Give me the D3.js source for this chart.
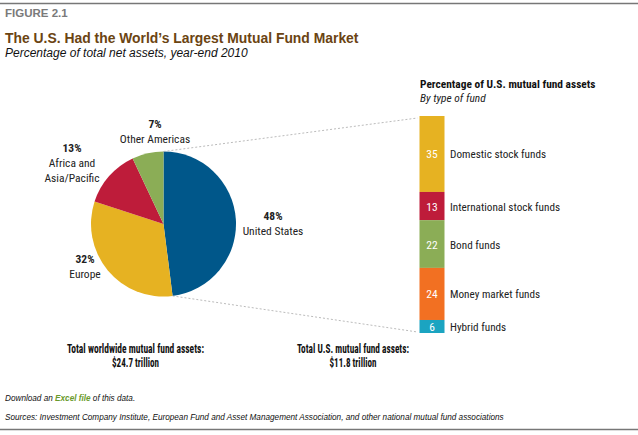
<!DOCTYPE html>
<html><head><meta charset="utf-8">
<script src="https://cdn.jsdelivr.net/npm/d3@7"></script>
<style>
body{margin:0;background:#fff;}
svg{display:block;}
.n{font-family:"Liberation Sans Narrow","Roboto Condensed","Roboto",sans-serif;}
.a{font-family:"Liberation Sans",Arial,sans-serif;}
</style></head>
<body>
<svg id="c" width="638" height="435"></svg>
<script>
const regions = ["United States","Europe","Africa and Asia/Pacific","Other Americas"];
const regionValues = [48,32,13,7];
const regionColors = ["#00578a","#e6b222","#be1c3a","#8bad56"];
const regionLabelLines = [["48%","United States"],["32%","Europe"],["13%","Africa and","Asia/Pacific"],["7%","Other Americas"]];

const fundTypes = ["Domestic stock funds","International stock funds","Bond funds","Money market funds","Hybrid funds"];
const fundValues = [35,13,22,24,6];
const fundColors = ["#e6b222","#be1c3a","#8bad56","#f27022","#1ba4c1"];

const svg = d3.select("#c");
const W = 638;

// frame lines
svg.append("line").attr("x1",0).attr("x2",W).attr("y1",3.5).attr("y2",3.5).attr("stroke","#777").attr("stroke-width",1.5);
svg.append("line").attr("x1",0).attr("x2",W).attr("y1",429.5).attr("y2",429.5).attr("stroke","#777").attr("stroke-width",1.5);

// header
svg.append("text").attr("class","a").attr("x",5).attr("y",17).attr("font-size",11.5).attr("font-weight","bold").attr("fill","#7a7a7a").text("FIGURE 2.1");
svg.append("text").attr("class","a").attr("x",5).attr("y",42.5).attr("font-size",13.9).attr("font-weight","bold").attr("fill","#6b4412").text("The U.S. Had the World\u2019s Largest Mutual Fund Market");
svg.append("text").attr("class","a").attr("x",5).attr("y",57).attr("font-size",12).attr("font-style","italic").attr("fill","#111").text("Percentage of total net assets, year-end 2010");

// pie
const cx = 163.5, cy = 224, r = 72.5;
const pie = d3.pie().sort(null).value(d=>d);
const arcs = pie(regionValues);
const arc = d3.arc().innerRadius(0).outerRadius(r);
const g = svg.append("g").attr("transform",`translate(${cx},${cy})`);
g.selectAll("path").data(arcs).join("path").attr("d",arc).attr("fill",(d,i)=>regionColors[i]);

// bar
const barX = 419.5, barW = 25;
const y = d3.scaleLinear().domain([0,100]).range([116,333]);
const cum = d3.cumsum(fundValues);
const segs = fundValues.map((v,i)=>({v, y0: cum[i]-v, y1: cum[i], i}));

// connector dashed lines
const us = arcs[0];
const pt = a => [cx + r*Math.sin(a), cy - r*Math.cos(a)];
const pTop = pt(us.startAngle), pBot = pt(us.endAngle);
svg.append("line").attr("x1",pTop[0]).attr("y1",pTop[1]).attr("x2",barX-2).attr("y2",y(0)+2)
  .attr("stroke","#aaa").attr("stroke-width",0.8).attr("stroke-dasharray","2,2");
svg.append("line").attr("x1",pBot[0]).attr("y1",pBot[1]).attr("x2",barX-2).attr("y2",y(100)-1)
  .attr("stroke","#aaa").attr("stroke-width",0.8).attr("stroke-dasharray","2,2");

svg.selectAll("rect.seg").data(segs).join("rect").attr("class","seg")
  .attr("x",barX).attr("width",barW).attr("y",d=>y(d.y0)).attr("height",d=>y(d.y1)-y(d.y0))
  .attr("fill",d=>fundColors[d.i]);
svg.selectAll("text.val").data(segs).join("text").attr("class","val n")
  .attr("x",barX+barW/2).attr("y",d=>(y(d.y0)+y(d.y1))/2+4.5).attr("text-anchor","middle")
  .attr("font-size",11.5).attr("fill","#fff").text(d=>d.v);
svg.selectAll("text.lab").data(segs).join("text").attr("class","lab n")
  .attr("x",450).attr("y",d=>(y(d.y0)+y(d.y1))/2+4.5)
  .attr("font-size",11.2).attr("fill","#222").text(d=>fundTypes[d.i]);

// legend header
svg.append("text").attr("class","n").attr("x",420).attr("y",88).attr("font-size",11.4).attr("font-weight","bold").attr("fill","#111").text("Percentage of U.S. mutual fund assets");
svg.append("text").attr("class","n").attr("x",420).attr("y",102).attr("font-size",11.4).attr("font-style","italic").attr("fill","#222").text("By type of fund");

// pie labels
const labelPos = [[273,220],[85,263],[72,152],[155,128]];
regionLabelLines.forEach((lines,i)=>{
  const t = svg.append("text").attr("class","n").attr("text-anchor","middle").attr("font-size",11.5).attr("fill","#222");
  lines.forEach((s,j)=>{
    t.append("tspan").attr("x",labelPos[i][0]).attr("y",labelPos[i][1]+j*15)
      .attr("font-weight",j===0?"bold":"normal").text(s);
  });
});

// totals
const totals = [[135.5,"Total worldwide mutual fund assets:",137,"$24.7 trillion",47],[353,"Total U.S. mutual fund assets:",112,"$11.8 trillion",47]];
totals.forEach(([x,a,la,b,lb])=>{
  svg.append("text").attr("class","n").attr("x",x).attr("y",353).attr("text-anchor","middle").attr("font-size",12.5).attr("font-weight","bold").attr("fill","#111")
    .attr("textLength",la).attr("lengthAdjust","spacingAndGlyphs").text(a);
  svg.append("text").attr("class","n").attr("x",x).attr("y",367).attr("text-anchor","middle").attr("font-size",12.5).attr("font-weight","bold").attr("fill","#111")
    .attr("textLength",lb).attr("lengthAdjust","spacingAndGlyphs").text(b);
});

// footer
const f1 = svg.append("text").attr("class","a").attr("x",5).attr("y",401).attr("font-size",8.2).attr("font-style","italic").attr("fill","#111");
f1.append("tspan").text("Download an ");
f1.append("tspan").attr("fill","#6a9a2c").attr("font-weight","bold").text("Excel file");
f1.append("tspan").text(" of this data.");
svg.append("text").attr("class","a").attr("x",5).attr("y",420).attr("font-size",8.2).attr("font-style","italic").attr("fill","#111")
  .text("Sources: Investment Company Institute, European Fund and Asset Management Association, and other national mutual fund associations");
</script>
</body></html>
